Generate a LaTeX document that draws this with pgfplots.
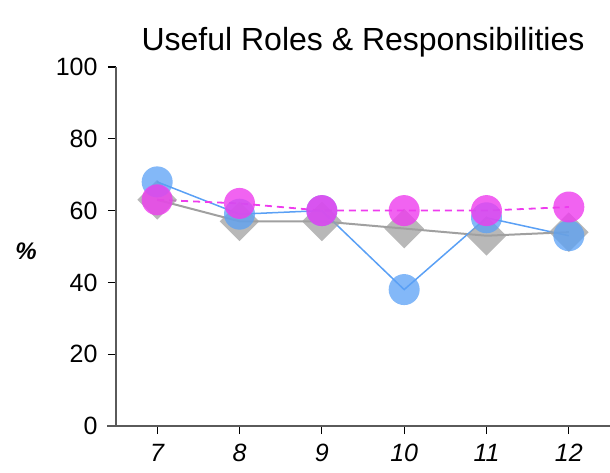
\documentclass[border=0pt]{standalone}
\usepackage{pgfplots}
\pgfplotsset{compat=1.18}
\usepackage{fontspec}
\setmainfont{Liberation Sans}

\definecolor{cblue}{RGB}{90,160,245}
\definecolor{cmag}{RGB}{238,60,238}
\definecolor{cgray}{RGB}{160,160,160}
\definecolor{axgray}{RGB}{90,90,90}

\begin{document}
\begin{tikzpicture}
\path[use as bounding box] (-116bp,-47bp) rectangle (494bp,426bp);
\begin{axis}[
    at={(0,0)}, anchor=south west,
    scale only axis,
    width=494bp, height=359bp,
    xmin=6.5, xmax=12.5,
    ymin=0, ymax=100,
    axis x line*=bottom,
    axis y line*=left,
    axis line style={axgray, line width=1.3bp},
    x axis line style={-},
    y axis line style={-},
    xtick={7,8,9,10,11,12},
    ytick={0,20,40,60,80,100},
    tick style={black, line width=1.3bp},
    tick align=outside,
    major tick length=8bp,
    xticklabel style={font=\fontsize{25bp}{29bp}\selectfont\itshape, yshift=-7bp},
    yticklabel style={font=\fontsize{25bp}{29bp}\selectfont, xshift=-7bp},
    /pgf/number format/assume math mode=true,
    title={Useful Roles \& Responsibilities},
    title style={font=\fontsize{32bp}{37bp}\selectfont, yshift=0bp},
    clip=false,
]
\draw[axgray, line width=1.3bp] (rel axis cs:-0.018,0) -- (rel axis cs:0,0);
\addplot[cgray, line width=2bp, mark=square*, mark size=14bp,
    mark options={rotate=45, fill=cgray, draw opacity=0, fill opacity=0.75}]
    coordinates {(7,63) (8,57) (9,57) (10,55) (11,53) (12,54)};
\addplot[cblue, line width=1.5bp, mark=*, mark size=15.5bp,
    mark options={fill=cblue, draw opacity=0, fill opacity=0.75}]
    coordinates {(7,68) (8,59) (9,60) (10,38) (11,58) (12,53)};
\addplot[cmag, line width=1.8bp, dash pattern=on 7bp off 5bp, mark=*, mark size=15.5bp,
    mark options={solid, fill=cmag, draw opacity=0, fill opacity=0.8}]
    coordinates {(7,63) (8,62) (9,60) (10,60) (11,60) (12,61)};
\end{axis}
\node[font=\fontsize{24bp}{28bp}\selectfont\bfseries\itshape] at (-90bp,175bp) {\%};
\end{tikzpicture}
\end{document}
